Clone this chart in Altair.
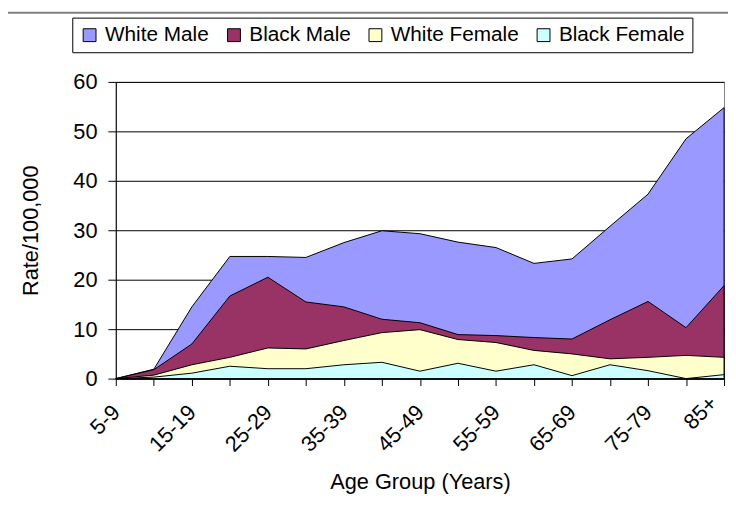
import altair as alt
import pandas as pd

age_groups = ["5-9", "10-14", "15-19", "20-24", "25-29", "30-34", "35-39", "40-44",
              "45-49", "50-54", "55-59", "60-64", "65-69", "70-74", "75-79", "80-84", "85+"]
white_male = [0, 1.9, 14.5, 24.7, 24.7, 24.5, 27.5, 29.9, 29.3, 27.6, 26.5, 23.3, 24.2, 30.8, 37.3, 48.5, 54.8]
black_male = [0, 1.8, 7.0, 16.7, 20.5, 15.5, 14.5, 12.0, 11.3, 8.9, 8.7, 8.3, 8.0, 11.9, 15.6, 10.3, 18.8]
white_female = [0, 0.7, 2.8, 4.3, 6.2, 6.0, 7.7, 9.3, 9.9, 7.9, 7.3, 5.7, 5.0, 4.0, 4.3, 4.7, 4.3]
black_female = [0, 0.3, 1.1, 2.5, 2.0, 2.0, 2.8, 3.3, 1.5, 3.1, 1.5, 2.8, 0.6, 2.8, 1.6, 0.0, 0.8]

series_names = ["White Male", "Black Male", "White Female", "Black Female"]
series_colors = ["#9999FF", "#993366", "#FFFFCC", "#CCFFFF"]
series_values = [white_male, black_male, white_female, black_female]

rows = []
for name, vals in zip(series_names, series_values):
    for i, (g, v) in enumerate(zip(age_groups, vals)):
        rows.append({"series": name, "idx": i, "age": g, "rate": v})
df = pd.DataFrame(rows)

FONT = "Liberation Sans"
label_js = "[" + ",".join("'" + g + "'" for g in age_groups) + "]"
last_idx = len(age_groups) - 1

x_enc = alt.X(
    "idx:Q",
    scale=alt.Scale(domain=[0, last_idx], nice=False, zero=False),
    axis=alt.Axis(
        values=list(range(len(age_groups))),
        labelExpr="datum.value % 2 == 0 ? " + label_js + "[datum.value] : ''",
        labelAngle=315, labelAlign="right", labelBaseline="middle",
        labelPadding={"condition": {"test": f"datum.value == {last_idx}", "value": 14}, "value": 23},
        labelOffset={"condition": {"test": f"datum.value == {last_idx}", "value": -11}, "value": 0},
        tickSize=7, labelFlush=False, labelOverlap=False, labelBound=False,
        labelFontSize=22, labelFont=FONT, labelColor="black",
        grid=False, domainColor="black", tickColor="black",
        title="Age Group (Years)", titleFontSize=22, titleFont=FONT, titleFontWeight="normal",
        titleColor="black", titleX=307.5, titleY=111, titleBaseline="alphabetic", titleAlign="center",
    ),
)
y_enc = alt.Y(
    "rate:Q",
    stack=None,
    scale=alt.Scale(domain=[0, 60], nice=False),
    axis=alt.Axis(
        values=[0, 10, 20, 30, 40, 50, 60],
        tickSize=8, labelPadding=11, labelFontSize=22, labelFont=FONT, labelColor="black",
        grid=True, gridColor="black", gridWidth=1,
        domainColor="black", tickColor="black",
        title="Rate/100,000", titleFontSize=22, titleFont=FONT, titleFontWeight="normal",
        titleColor="black", titleX=-86, titleY=150, titleAngle=270,
        titleBaseline="middle", titleAlign="center",
    ),
)
color_enc = alt.Color(
    "series:N",
    scale=alt.Scale(domain=series_names, range=series_colors),
    legend=alt.Legend(
        title=None, orient="none", legendX=-44, legendY=-65, direction="horizontal",
        strokeColor="black", fillColor="white", padding=7,
        symbolType="square", symbolSize=169, symbolStrokeColor="black", symbolStrokeWidth=1,
        symbolOpacity=1, labelFontSize=21, labelFont=FONT, labelColor="black",
        labelOffset=5, columnPadding=14,
    ),
)

layers = []
for name in series_names:
    layers.append(
        alt.Chart(df)
        .transform_filter(alt.datum.series == name)
        .mark_area(stroke="black", strokeWidth=1, opacity=1, line=False)
        .encode(x=x_enc, y=y_enc, color=color_enc)
    )

frame_top = alt.Chart(pd.DataFrame({"a": [0]})).mark_rule(color="#808080", strokeWidth=2).encode(
    x=alt.value(-109), x2=alt.value(619), y=alt.value(-70)
)

chart = (
    alt.layer(*layers, frame_top)
    .properties(
        width=615, height=300, autosize="none",
        padding={"left": 109, "top": 72, "right": 4, "bottom": 118},
        background="white",
    )
    .configure_view(stroke="#808080", strokeWidth=1)
)

chart.save("out.html", embed_options={"renderer": "svg", "actions": False})
